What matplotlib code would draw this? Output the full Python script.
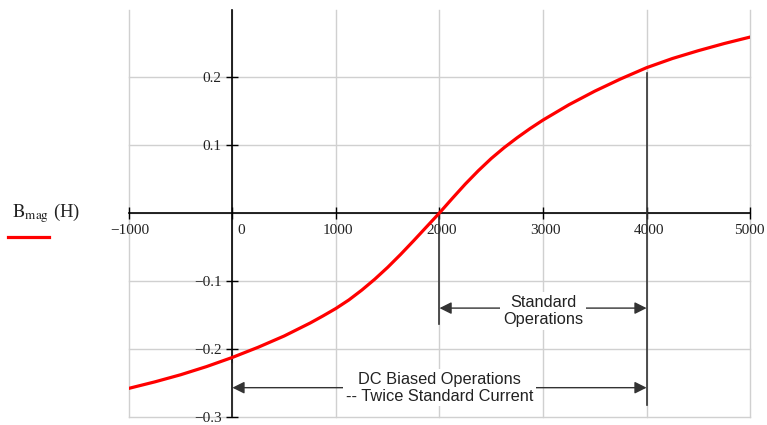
import numpy as np
import matplotlib
matplotlib.use('Agg')
import matplotlib.pyplot as plt
from matplotlib.lines import Line2D
from matplotlib.transforms import ScaledTranslation

# ── Data: B(H) magnetisation curve ────────────────────────────────────────────
H = [-1000, -750, -500, -250, 0, 250, 500, 750, 875, 1000, 1125, 1250, 1375,
     1500, 1625, 1750, 1875, 2000, 2125, 2250, 2375, 2500, 2625, 2750, 2875,
     3000, 3250, 3500, 3750, 4000, 4250, 4500, 4750, 5000]
B = [-0.258, -0.2485, -0.238, -0.226, -0.2125, -0.1975, -0.181, -0.162,
     -0.1515, -0.1405, -0.128, -0.1135, -0.0975, -0.080, -0.061, -0.041,
     -0.0205, 0.0, 0.0215, 0.0425, 0.062, 0.080, 0.096, 0.1105, 0.124,
     0.1365, 0.159, 0.179, 0.197, 0.2135, 0.227, 0.2385, 0.249, 0.2585]

x_ticks = [-1000, 0, 1000, 2000, 3000, 4000, 5000]
x_labels = ['\u22121000', '0', '1000', '2000', '3000', '4000', '5000']
y_ticks = [-0.3, -0.2, -0.1, 0.1, 0.2]
y_labels = ['\u22120.3', '\u22120.2', '\u22120.1', '0.1', '0.2']
y_grid = [-0.3, -0.2, -0.1, 0.0, 0.1, 0.2]

std_range = (2000, 4000)
dc_range = (0, 4000)

plt.rcParams['mathtext.fontset'] = 'stix'

fig = plt.figure(figsize=(7.67, 4.25), dpi=100, facecolor='white')
ax = fig.add_axes([0.168, 0.019, 0.810, 0.957])

ax.set_xlim(-1000, 5000)
ax.set_ylim(-0.3, 0.298)

# grid
for gx in x_ticks:
    ax.axvline(gx, color='#d0d0d0', lw=1.0, zorder=0, clip_on=False)
for gy in y_grid:
    ax.axhline(gy, color='#d0d0d0', lw=1.0, zorder=0, clip_on=False)

# axes through origin
for s in ['top', 'right']:
    ax.spines[s].set_visible(False)
ax.spines['left'].set_position(('data', 0))
ax.spines['bottom'].set_position(('data', 0))
ax.spines['left'].set_linewidth(1.2)
ax.spines['bottom'].set_linewidth(1.2)

ax.set_xticks(x_ticks)
ax.set_xticklabels(x_labels)
ax.set_yticks(y_ticks)
ax.set_yticklabels(y_labels)
ax.tick_params(direction='inout', length=8.5, width=1.0, colors='black',
               labelsize=11, labelcolor='#222222')
for lab in ax.get_xticklabels() + ax.get_yticklabels():
    lab.set_fontfamily('Liberation Serif')
# labels sit a touch right of their ticks ("0" clears the y axis)
shifts = [1, 6, 1.5, 1.5, 1.5, 1.5, -0.5]
for lab, dx in zip(ax.get_xticklabels(), shifts):
    lab.set_transform(lab.get_transform() + ScaledTranslation(dx/72, 0, fig.dpi_scale_trans))

# curve
ax.plot(H, B, color='red', lw=2.3, zorder=4, solid_joinstyle='round')

# annotation marker lines
mk = dict(color='#333333', lw=1.2, zorder=3)
ax.plot([2000, 2000], [0.0, -0.163], **mk)
ax.plot([4000, 4000], [0.205, -0.282], **mk)
ax.plot([0, 0], [-0.222, -0.298], **mk)

arr = dict(arrowstyle='-|>', color='#333333', lw=1.0, mutation_scale=18,
           shrinkA=0, shrinkB=0)
y_std = -0.14
y_dc = -0.257
ax.annotate('', xy=(std_range[0], y_std), xytext=(3000, y_std), arrowprops=arr)
ax.annotate('', xy=(std_range[1], y_std), xytext=(3000, y_std), arrowprops=arr)
ax.annotate('', xy=(dc_range[0], y_dc), xytext=(2000, y_dc), arrowprops=arr)
ax.annotate('', xy=(dc_range[1], y_dc), xytext=(2000, y_dc), arrowprops=arr)

tb = dict(facecolor='white', edgecolor='none', pad=2)
ax.text(3000, y_std - 0.004, 'Standard\nOperations', ha='center', va='center',
        fontsize=11.8, family='Liberation Sans', color='#222222',
        linespacing=1.18, bbox=tb, zorder=5)
ax.text(2000, y_dc, 'DC Biased Operations\n-- Twice Standard Current',
        ha='center', va='center', fontsize=11.8, family='Liberation Sans',
        color='#222222', linespacing=1.15, bbox=tb, zorder=5)

# legend on the left
fig.text(0.015, 0.489, r'$\mathrm{B_{mag}}$ (H)', fontsize=13.5,
         family='Liberation Serif', color='#222222', va='baseline')
fig.add_artist(Line2D([0.011, 0.064], [0.443, 0.443], color='red', lw=2.3,
                      transform=fig.transFigure))

fig.savefig('out.png', dpi=100, facecolor='white')
